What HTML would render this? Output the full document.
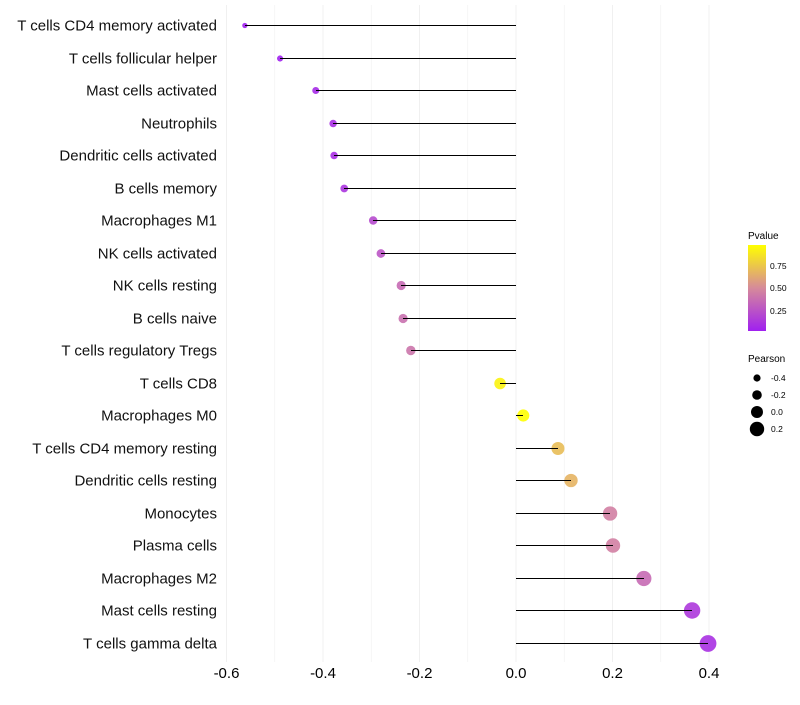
<!DOCTYPE html>
<html><head><meta charset="utf-8"><style>
body{margin:0;background:#fff;font-family:"Liberation Sans",sans-serif}
</style></head><body>
<svg id="chart" width="800" height="700" xmlns="http://www.w3.org/2000/svg" font-family="Liberation Sans, sans-serif">
<defs><linearGradient id="pg" x1="0" y1="1" x2="0" y2="0">
<stop offset="0" stop-color="#a020f0"/><stop offset="0.5" stop-color="#d68a9a"/><stop offset="1" stop-color="#ffff00"/></linearGradient></defs>
<g id="grid"></g>
<g id="dots"></g>
<g id="stems"></g>
<g id="labels"></g>
<g>
<text x="748" y="239" font-size="10">Pvalue</text>
<rect x="748" y="245" width="18" height="86" fill="url(#pg)"/>
<text x="770" y="269" font-size="8.5">0.75</text>
<text x="770" y="291" font-size="8.5">0.50</text>
<text x="770" y="314" font-size="8.5">0.25</text>
</g>
<g>
<text x="748" y="362" font-size="10">Pearson</text>
<circle cx="757" cy="378" r="3.6"/><text x="771" y="381" font-size="8.5">-0.4</text>
<circle cx="757" cy="395" r="4.8"/><text x="771" y="398" font-size="8.5">-0.2</text>
<circle cx="757" cy="412" r="6"/><text x="771" y="415" font-size="8.5">0.0</text>
<circle cx="757" cy="429" r="7.2"/><text x="771" y="432" font-size="8.5">0.2</text>
</g>
</svg>
<script>
const categories=["T cells CD4 memory activated","T cells follicular helper","Mast cells activated","Neutrophils","Dendritic cells activated","B cells memory","Macrophages M1","NK cells activated","NK cells resting","B cells naive","T cells regulatory  Tregs ","T cells CD8","Macrophages M0","T cells CD4 memory resting","Dendritic cells resting","Monocytes","Plasma cells","Macrophages M2","Mast cells resting","T cells gamma delta"];
const pearson=[-0.562,-0.489,-0.415,-0.379,-0.377,-0.356,-0.296,-0.280,-0.238,-0.234,-0.218,-0.033,0.015,0.087,0.114,0.195,0.201,0.265,0.365,0.398];
const pvalue=[0.0,0.01,0.05,0.07,0.07,0.1,0.2,0.25,0.35,0.38,0.4,0.95,1.0,0.72,0.68,0.45,0.45,0.35,0.12,0.08];
const ticks=[-0.6,-0.4,-0.2,0.0,0.2,0.4];
const tickLabels=["-0.6","-0.4","-0.2","0.0","0.2","0.4"];
const NS="http://www.w3.org/2000/svg";
const x=v=>516+v*482.5;
const y=i=>Math.round(25+i*32.5)+0.5;
const r=v=>6+6*v;
function mix(a,b,t){return a.map((c,k)=>Math.round(c+(b[k]-c)*t));}
function col(p){const A=[160,32,240],B=[214,138,154],C=[255,255,0];
 const c=p<0.5?mix(A,B,p/0.5):mix(B,C,(p-0.5)/0.5);return `rgb(${c.join(',')})`;}
function mk(t,a,p){const e=document.createElementNS(NS,t);for(const k in a)e.setAttribute(k,a[k]);p.appendChild(e);return e;}
const grid=document.getElementById('grid'),dots=document.getElementById('dots'),stems=document.getElementById('stems'),labels=document.getElementById('labels');
for(let v=-0.6;v<=0.41;v+=0.1){const g=mk('line',{x1:x(v),x2:x(v),y1:5,y2:662,stroke:'#f0f0f0','stroke-width':Math.abs(Math.round(v*10))%2===0?1:0.6},grid);

}
ticks.forEach((t,i)=>{const e=mk('text',{x:x(t),y:678,'font-size':15,'text-anchor':'middle',fill:'#000'},labels);e.textContent=tickLabels[i];

});
categories.forEach((c,i)=>{
 const l=mk('text',{x:217,y:y(i)+5,'font-size':15,'text-anchor':'end',fill:'#111'},labels);l.textContent=c;
 
 
 const d=mk('circle',{cx:x(pearson[i]),cy:y(i),r:Math.max(1.5,r(pearson[i])),fill:col(pvalue[i]),'fill-opacity':0.9},dots);
 
 
 const s=mk('line',{x1:x(0),x2:x(pearson[i]),y1:y(i),y2:y(i),stroke:'#000','stroke-width':1,'shape-rendering':'crispEdges'},stems);
 
 
});
</script>
</body></html>
